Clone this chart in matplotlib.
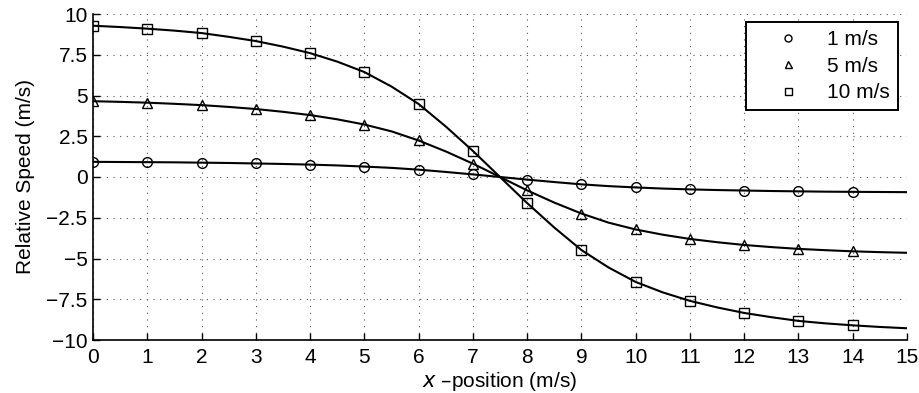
import numpy as np
import matplotlib
matplotlib.use("Agg")
from matplotlib import pyplot as plt

matplotlib.rcParams["font.family"] = ["Liberation Sans", "DejaVu Sans"]
matplotlib.rcParams["axes.unicode_minus"] = True

# marker positions (x = 0..14)
x_mark = [0, 1, 2, 3, 4, 5, 6, 7, 8, 9, 10, 11, 12, 13, 14]
v1_mark = [0.93, 0.91, 0.88, 0.83, 0.76, 0.64, 0.45, 0.16,
           -0.16, -0.45, -0.64, -0.76, -0.83, -0.88, -0.91]
v5_mark = [4.65, 4.56, 4.41, 4.17, 3.80, 3.22, 2.24, 0.82,
           -0.82, -2.24, -3.22, -3.80, -4.17, -4.41, -4.56]
v10_mark = [9.28, 9.10, 8.83, 8.34, 7.60, 6.44, 4.48, 1.60,
            -1.60, -4.48, -6.44, -7.60, -8.34, -8.83, -9.10]

# curve samples (x = 0..15, step 0.5)
x_line = [0, 0.5, 1, 1.5, 2, 2.5, 3, 3.5, 4, 4.5, 5, 5.5, 6, 6.5, 7, 7.5,
          8, 8.5, 9, 9.5, 10, 10.5, 11, 11.5, 12, 12.5, 13, 13.5, 14, 14.5, 15]
v1_line = [0.93, 0.92, 0.91, 0.90, 0.88, 0.86, 0.83, 0.80, 0.76, 0.71, 0.64,
           0.56, 0.45, 0.31, 0.16, 0.0, -0.16, -0.31, -0.45, -0.56, -0.64,
           -0.71, -0.76, -0.80, -0.83, -0.86, -0.88, -0.90, -0.91, -0.92, -0.93]
v5_line = [4.65, 4.61, 4.56, 4.49, 4.41, 4.30, 4.17, 4.00, 3.80, 3.54, 3.22,
           2.80, 2.24, 1.57, 0.82, 0.0, -0.82, -1.57, -2.24, -2.80, -3.22,
           -3.54, -3.80, -4.00, -4.17, -4.30, -4.41, -4.49, -4.56, -4.61, -4.65]
v10_line = [9.28, 9.20, 9.10, 8.98, 8.83, 8.60, 8.34, 8.00, 7.60, 7.08, 6.44,
            5.55, 4.48, 3.10, 1.60, 0.0, -1.60, -3.10, -4.48, -5.55, -6.44,
            -7.08, -7.60, -8.00, -8.34, -8.60, -8.83, -8.98, -9.10, -9.20, -9.28]

labels = ["1 m/s", "5 m/s", "10 m/s"]
markers = ["o", "^", "s"]
fs = 15

fig = plt.figure(figsize=(9.2, 3.93), dpi=100)
ax = fig.add_axes([93 / 920, 1 - 340 / 393, 814 / 920, 326 / 393])

for yl, ym, mk, lab in zip([v1_line, v5_line, v10_line],
                           [v1_mark, v5_mark, v10_mark], markers, labels):
    ax.plot(x_line, yl, color="black", lw=1.5)
    ax.plot(x_mark, ym, linestyle="none", marker=mk, ms=7, mfc="none",
            mec="black", mew=1.0, label=lab)

ax.set_xlim(0, 15)
ax.set_ylim(-10, 10)
ax.set_xticks(range(0, 16))
yt = [-10, -7.5, -5, -2.5, 0, 2.5, 5, 7.5, 10]
ax.set_yticks(yt)
ax.set_yticklabels([("%g" % t).replace("-", "\u2212") for t in yt])
ax.tick_params(direction="in", length=5, width=1, labelsize=fs, pad=4)
ax.tick_params(axis="x", pad=6)
ax.grid(True, color="#555555", linestyle=(0, (1, 5)), linewidth=0.8)
ax.spines["top"].set_visible(False)
ax.spines["right"].set_visible(False)
ax.spines["left"].set_linewidth(1.2)
ax.spines["bottom"].set_linewidth(1.2)

ax.set_ylabel("Relative Speed (m/s)", fontsize=fs, labelpad=8)
ax.set_xlabel("$x$ \u2013position (m/s)", fontsize=fs, labelpad=2)

leg = ax.legend(loc="upper right", bbox_to_anchor=(0.989, 0.9755),
                fontsize=fs, frameon=True, fancybox=False, markerscale=0.72,
                handlelength=3.3, handletextpad=0.2, borderpad=0.4,
                labelspacing=0.35, borderaxespad=0)
leg.get_frame().set_edgecolor("black")
leg.get_frame().set_linewidth(1.4)
leg.get_frame().set_alpha(1)

fig.savefig("out.png", dpi=100)
